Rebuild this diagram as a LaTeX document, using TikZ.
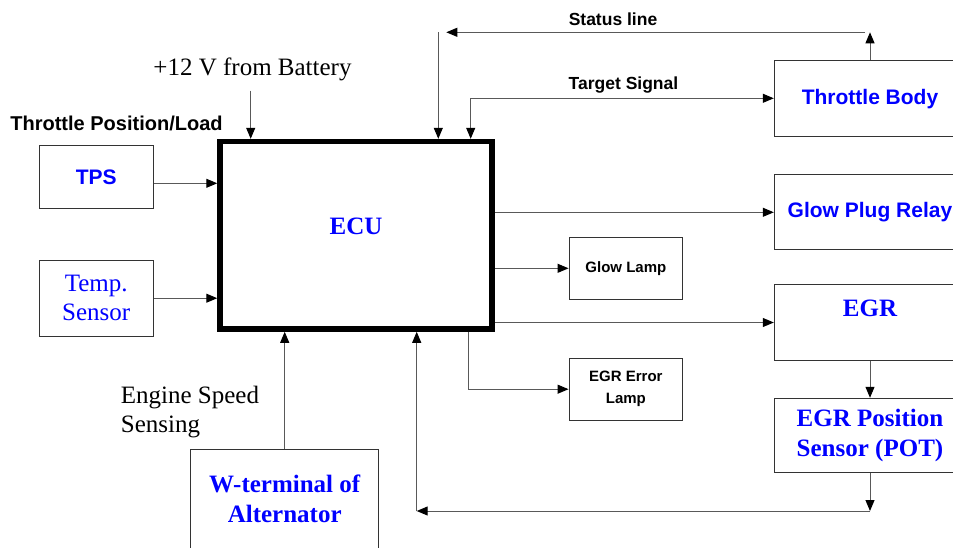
\documentclass[tikz,border=0pt]{standalone}
\usepackage{fontspec}
\setmainfont{Liberation Serif}
\setsansfont{Liberation Sans}
\usetikzlibrary{arrows.meta,positioning}

\begin{document}
\begin{tikzpicture}[x=1pt, y=-1pt,
  box/.style={draw=black!80, line width=1pt, inner sep=0pt, align=center},
  arr/.style={-{Triangle[length=11pt,width=9pt,color=black]}, line width=1pt, draw=black!65},
  rmbig/.style={font=\fontsize{25}{29}\selectfont\rmfamily},
  rmblue/.style={font=\fontsize{25}{30}\selectfont\rmfamily\bfseries, text=blue},
  sfblue/.style={font=\fontsize{21}{25}\selectfont\sffamily\bfseries, text=blue},
  sflbl/.style={font=\fontsize{17.5}{21}\selectfont\sffamily\bfseries, inner sep=0pt},
  sfsmall/.style={font=\fontsize{15}{22}\selectfont\sffamily\bfseries}]
  \useasboundingbox (0,0) rectangle (953,548);
  \clip (0,0) rectangle (953,548);
  % ECU
  \node[draw, line width=5.5pt, minimum width=272pt, minimum height=187.5pt, inner sep=0pt] (ecu) at (356,235.3) {};
  \node[rmblue] (ecutxt) at (356,226) {ECU};
  % inputs
  \node[box, sfblue, minimum width=113.7pt, minimum height=63pt] (tps) at (96.2,177.5) {TPS};
  \node[box, rmbig, text=blue, minimum width=113.7pt, minimum height=76.3pt] (temp) at (96.2,298.2) {Temp.\\Sensor};
  \node[box, rmblue, minimum width=188pt, minimum height=100pt] (wt) at (284.7,499) {W-terminal of\\Alternator};
  \node[sflbl, font=\fontsize{20}{24}\selectfont\sffamily\bfseries, anchor=base] (tpl) at (116.5,131) {Throttle Position/Load};
  \node[rmbig, inner sep=0pt, anchor=base] (battxt) at (252.5,76) {+12 V from Battery};
  \node[rmbig, inner sep=0pt, anchor=west, align=left] (engtxt) at (120.7,411.7) {Engine Speed\\Sensing};
  % outputs
  \node[box, sfblue, minimum width=191.4pt, minimum height=75.7pt] (tb) at (870,98.8) {Throttle Body};
  \node[box, sfblue, minimum width=191.4pt, minimum height=75.3pt] (gpr) at (870,212.3) {Glow Plug Relay};
  \node[box, sfsmall, minimum width=113.7pt, minimum height=62pt] (gl) at (625.9,268.3) {Glow Lamp};
  \node[box, rmblue, minimum width=191.4pt, minimum height=75.6pt, text depth=28pt] (egr) at (870,322.5) {EGR};
  \node[box, sfsmall, minimum width=113.7pt, minimum height=62.3pt] (eel) at (625.9,389.2) {EGR Error\\Lamp};
  \node[box, rmblue, minimum width=191.4pt, minimum height=74.4pt] (pot) at (870,435.5) {EGR Position\\Sensor (POT)};
  \node[sflbl, anchor=base] (sttxt) at (613,26) {Status line};
  \node[sflbl, anchor=base] (tgtxt) at (623.5,89.3) {Target Signal};
  % junction points
  \coordinate (bat) at (250.7,90.7);
  \coordinate (st) at (870,32.3);
  \coordinate (stL) at (438.3,32.3);
  \coordinate (tg) at (470.7,98.3);
  \coordinate (ee) at (468.3,389.2);
  \coordinate (fb) at (870,511);
  \coordinate (fbL) at (416.7,511);
  % connectors
  \draw[arr] ([yshift=-5.8pt]tps.east) -- ([yshift=-5.8pt]tps.east -| ecu.west);
  \draw[arr] (temp.east) -- (temp.east -| ecu.west);
  \draw[arr] (bat) -- (bat |- ecu.north);
  \draw[arr] (tb.north) -- (st);
  \draw[arr] ([xshift=-5pt]st) -- ([xshift=8pt]stL);
  \draw[arr] (stL) -- (stL |- ecu.north);
  \draw[arr] (tg) -- (tg -| tb.west);
  \draw[arr] (tg) -- (tg |- ecu.north);
  \draw[arr] (ecu.east |- gpr.west) -- (gpr.west);
  \draw[arr] (ecu.east |- gl.west) -- (gl.west);
  \draw[arr] (ecu.east |- egr.west) -- (egr.west);
  \draw[arr] (ee |- ecu.south) -- (ee) -- (eel.west);
  \draw[arr] (egr.south) -- (pot.north);
  \draw[arr] (pot.south) -- (fb);
  \draw[arr] (fb) -- (fbL);
  \draw[arr] (fbL) -- (fbL |- ecu.south);
  \draw[arr] (wt.north) -- (wt.north |- ecu.south);
\end{tikzpicture}
\end{document}
